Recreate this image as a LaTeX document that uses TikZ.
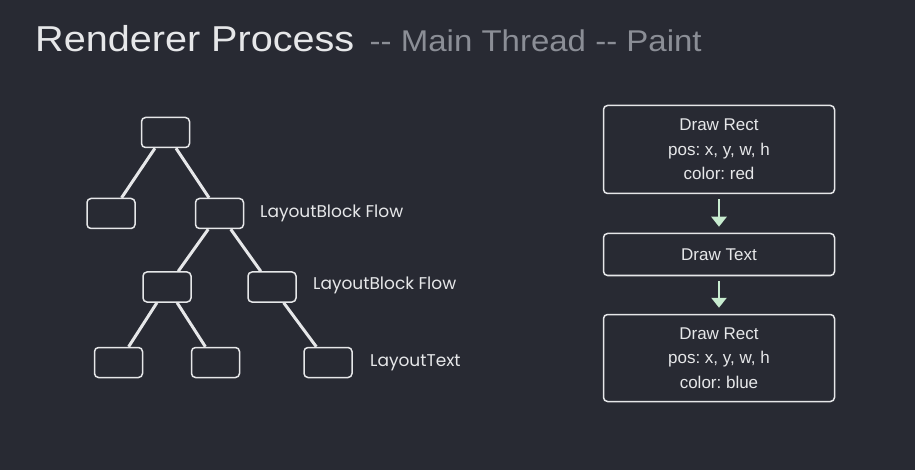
\documentclass[tikz,border=0pt]{standalone}
\usepackage{fontspec}
\setmainfont{Liberation Sans}
\newfontfamily\headfont[FakeStretch=1.1]{Liberation Sans}
\newfontfamily\treefont{Poppins}
\usetikzlibrary{arrows.meta}
\definecolor{bgdark}{RGB}{40,42,51}
\definecolor{lineclr}{RGB}{230,231,233}
\definecolor{subgray}{RGB}{139,142,150}
\definecolor{arrowgreen}{RGB}{200,236,208}
\frenchspacing

\begin{document}
\begin{tikzpicture}[x=1pt, y=-1pt,
  leaf/.style={draw=lineclr, line width=1.5pt, rounded corners=4pt,
    minimum width=48pt, minimum height=30pt, inner sep=0pt},
  edge/.style={lineclr, line width=3pt},
  tag/.style={anchor=west, inner sep=0pt, text=lineclr,
    font=\treefont\fontsize{17}{20}\selectfont},
  op/.style={draw=lineclr, line width=1.5pt, rounded corners=4pt,
    minimum width=231pt, align=center, text=lineclr,
    font=\fontsize{17}{24.5}\selectfont},
  flow/.style={arrowgreen, line width=2.5pt,
    -{Triangle[width=15pt, length=10pt]}, shorten <=5pt, shorten >=6pt}]
  % Fond
  \fill[bgdark] (0,0) rectangle (915,470);
  % Titre
  \node[anchor=base west, inner sep=0pt, text=lineclr,
    font=\headfont\fontsize{36}{40}\selectfont] (title) at (35,52) {Renderer Process};
  \node[anchor=base west, inner sep=0pt, text=subgray,
    font=\headfont\fontsize{30}{33}\selectfont] (subtitle)
    at ([xshift=15pt]title.base east) {-{}- Main Thread -{}- Paint};
  % Arbre de layout
  \node[leaf] (root) at (165.5,132.5) {};
  \node[leaf] (left) at (111,213.5) {};
  \node[leaf] (flow) at (219.5,213.5) {};
  \node[leaf] (flowa) at (167,287) {};
  \node[leaf] (flowb) at (272,287) {};
  \node[leaf] (leafa) at (118.5,362.5) {};
  \node[leaf] (leafb) at (215.5,362.5) {};
  \node[leaf] (text) at (328,362.5) {};
  \draw[edge] (root) -- (left);
  \draw[edge] (root) -- (flow);
  \draw[edge] (flow) -- (flowa);
  \draw[edge] (flow) -- (flowb);
  \draw[edge] (flowa) -- (leafa);
  \draw[edge] (flowa) -- (leafb);
  \draw[edge] (flowb) -- (text);
  % Etiquettes
  \node[tag] (tagflow) at (260,213.5) {LayoutBlock Flow};
  \node[tag] (tagflowb) at (313,285) {LayoutBlock Flow};
  \node[tag] (tagtext) at (370,363) {LayoutText};
  % Liste de dessin
  \node[op, minimum height=88pt] (rectred) at (719,149.5)
    {Draw Rect\\pos: x, y, w, h\\color: red};
  \node[op, minimum height=42pt] (drawtext) at (719,254.5) {Draw Text};
  \node[op, minimum height=87pt] (rectblue) at (719,358)
    {Draw Rect\\pos: x, y, w, h\\color: blue};
  \draw[flow] (rectred) -- (drawtext);
  \draw[flow] (drawtext) -- (rectblue);
\end{tikzpicture}
\end{document}
